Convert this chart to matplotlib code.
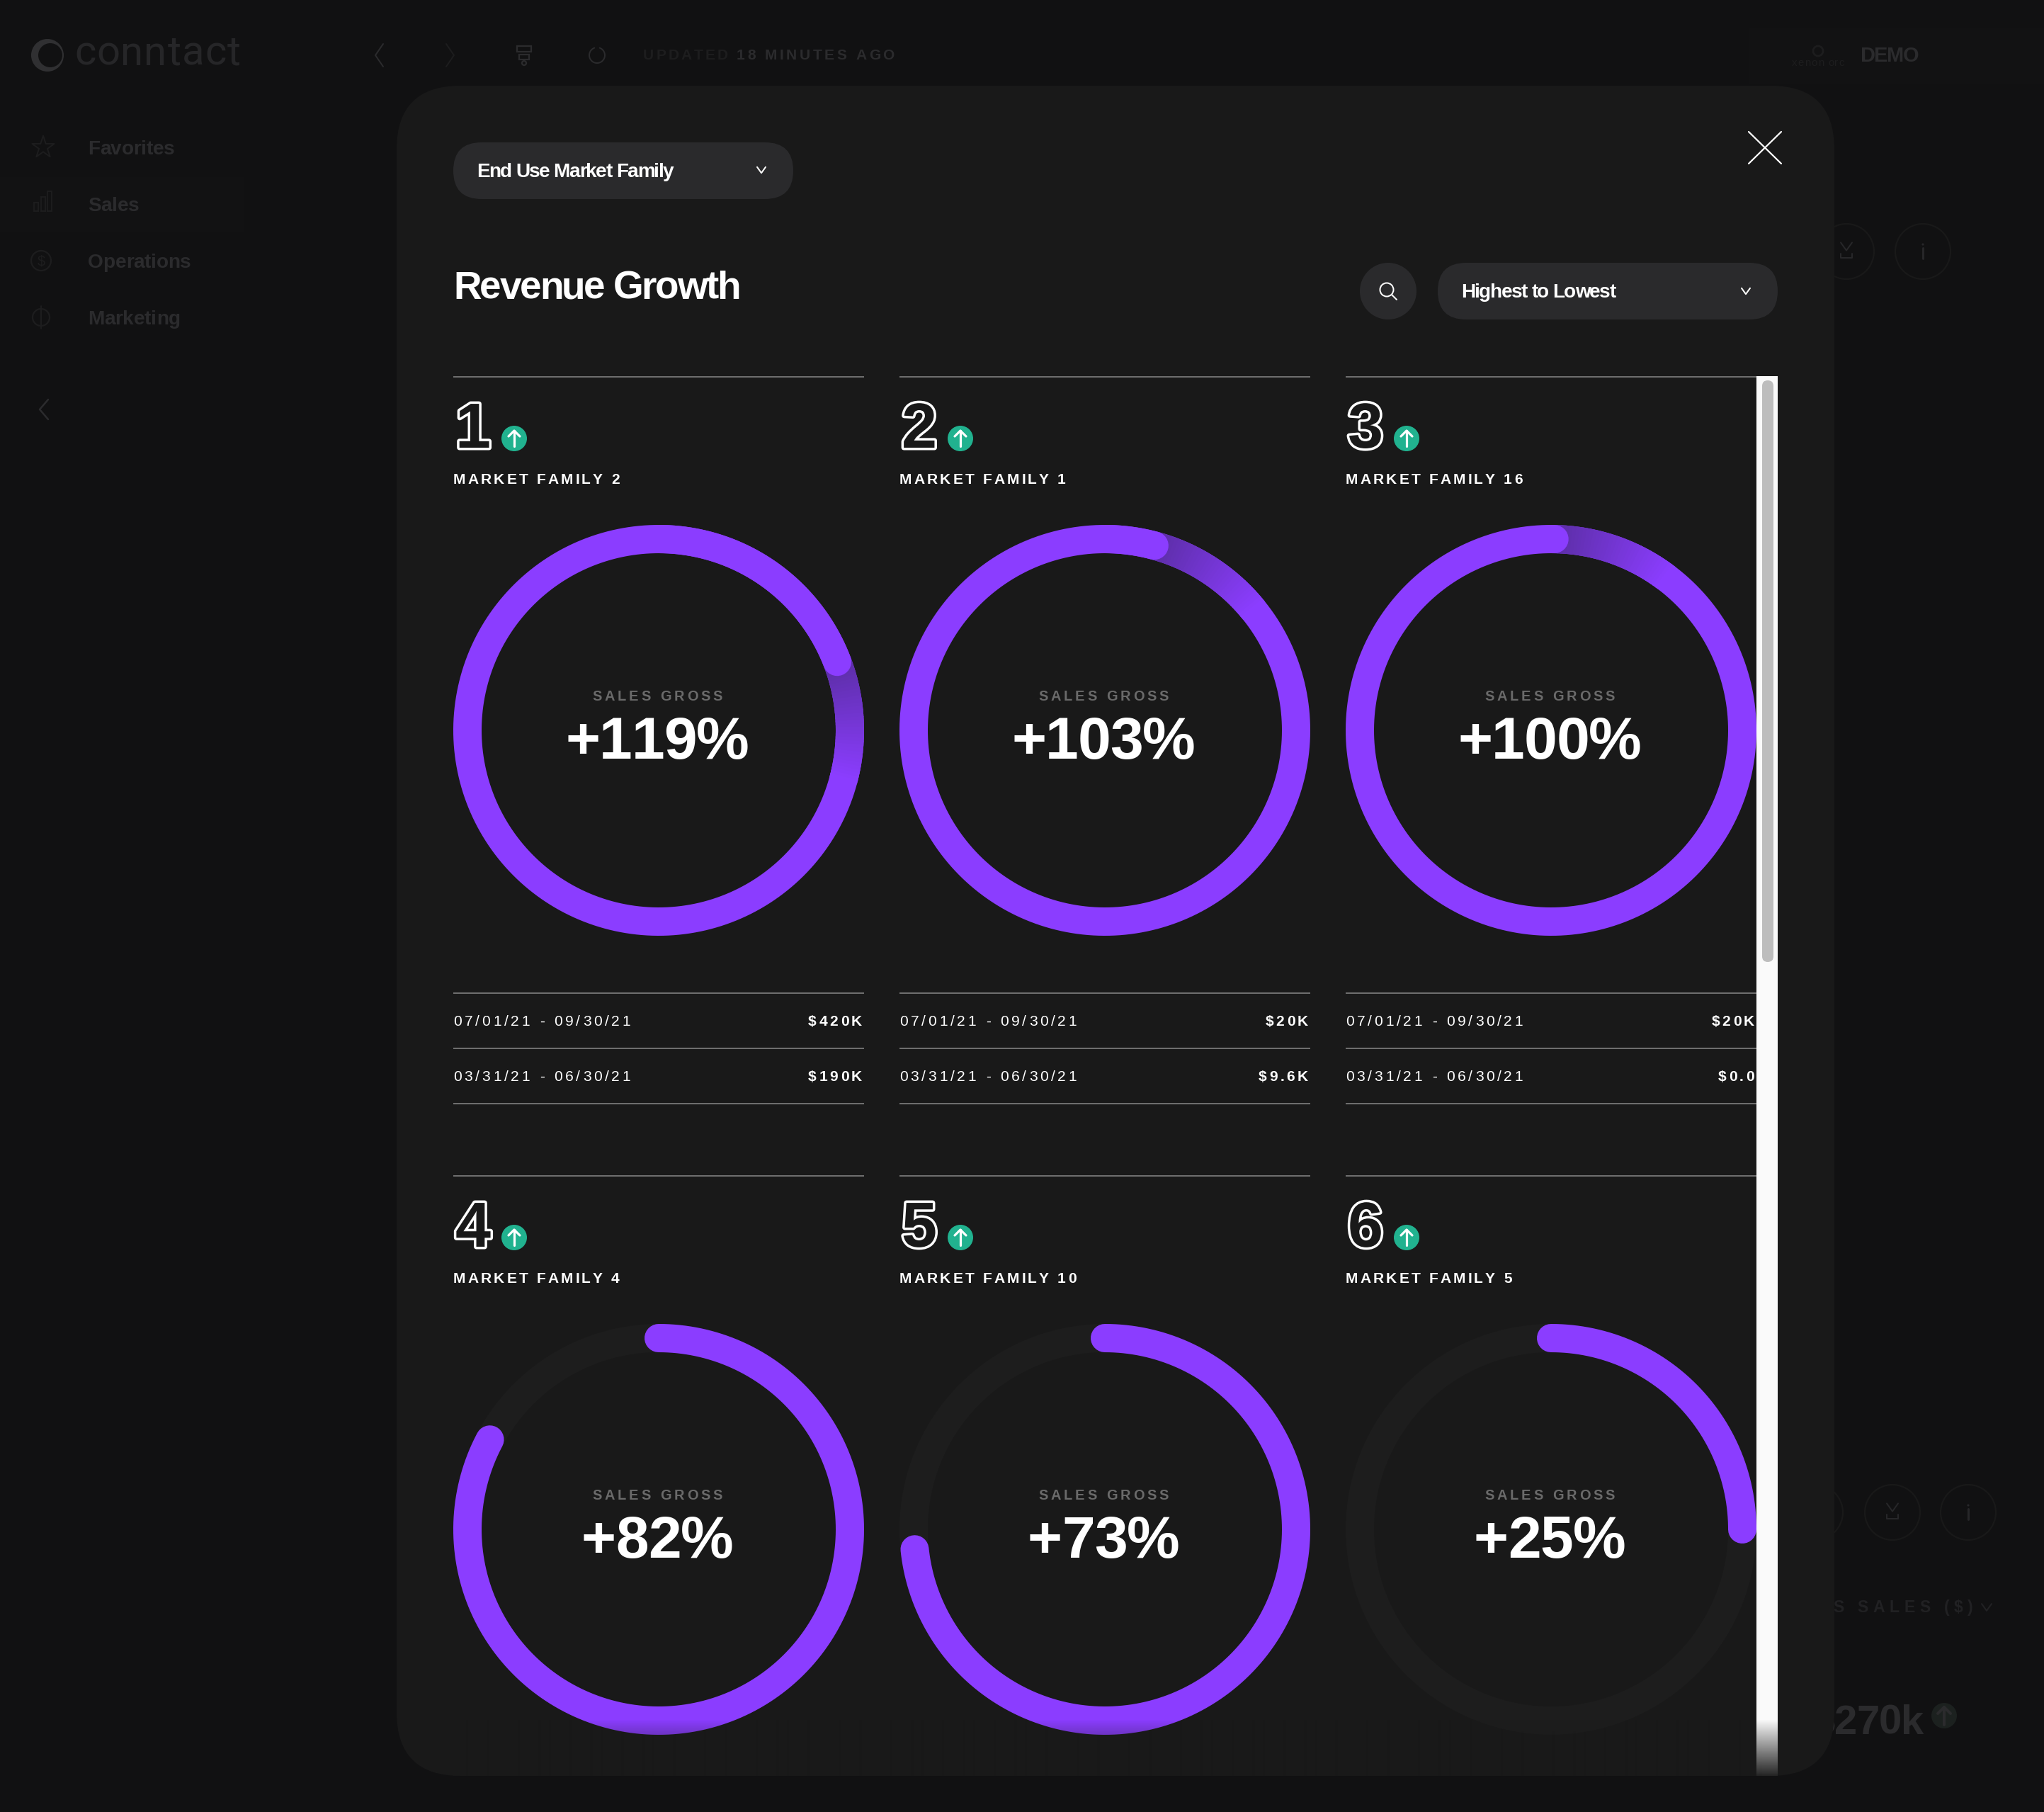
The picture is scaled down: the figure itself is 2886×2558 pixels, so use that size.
import numpy as np
import matplotlib
matplotlib.use('Agg')
import matplotlib.pyplot as plt
import matplotlib.patheffects as pe
from matplotlib.font_manager import findfont, get_font
from matplotlib.patches import Circle, FancyBboxPatch, Rectangle
from matplotlib.text import Text

families = ['MARKET FAMILY 2', 'MARKET FAMILY 1', 'MARKET FAMILY 16',
            'MARKET FAMILY 4', 'MARKET FAMILY 10', 'MARKET FAMILY 5']
growth = [119, 103, 100, 82, 73, 25]
# where each ring really ends, degrees clockwise from the top
ring_sweep = [429, 375, 361, 298, 264, 90]
period_current = '07/01/21 - 09/30/21'
period_previous = '03/31/21 - 06/30/21'
amount_current = ['$420K', '$20K', '$20K']
amount_previous = ['$190K', '$9.6K', '$0.0']
nav_items = ['Favorites', 'Sales', 'Operations', 'Marketing']

W, H = 2886, 2558
PAGE = '#111112'
PANEL = '#191919'
PILL = '#2a2a2c'
PURPLE = '#8b3dff'
SHADE = '#5c2ea6'
TRACK = '#1d1d1d'
RULE = '#6e6e6e'
GREEN = '#21b28f'
DIM = '#2b2b2d'
DIMMER = '#1d1d1e'
PX = 0.72  # figure is 100 dpi, so one pixel is 0.72 pt

col_x = [640, 1270, 1900]
col_w = 580
row_y = [532, 1660]


class TrackedText(Text):
    # Text with letter spacing, which matplotlib does not offer by itself
    def __init__(self, *args, tracking=0, **kwargs):
        super().__init__(*args, **kwargs)
        self.tracking = tracking

    def draw(self, renderer):
        s = self.get_text()
        prop = self.get_fontproperties()
        font = get_font(findfont(prop))
        font.set_size(prop.get_size_in_points(), self.figure.dpi)
        adv = [font.load_char(ord(c)).linearHoriAdvance / 65536 + self.tracking for c in s]
        total = sum(adv) - self.tracking
        x, y = self.get_transform().transform(self.get_position())
        if self.get_ha() == 'right':
            x -= total
        elif self.get_ha() == 'center':
            x -= total / 2
        gc = renderer.new_gc()
        gc.set_foreground(self.get_color())
        for c, a in zip(s, adv):
            if c != ' ':
                renderer.draw_text(gc, x, renderer.height - y, c, prop, 0, ismath=False)
            x += a
        gc.restore()


fig = plt.figure(figsize=(W / 100, H / 100), dpi=100, facecolor=PAGE)
ax = fig.add_axes([0, 0, 1, 1])
ax.axis('off')


def label(x, y, s, px, color='white', weight='normal', ha='left', tracking=0, z=7, family='Liberation Sans'):
    t = TrackedText(x, y, s, fontsize=px * PX, color=color, fontweight=weight, ha=ha,
                    va='baseline', family=family, tracking=tracking, zorder=z)
    ax.add_artist(t)


def line(xs, ys, color='white', w=2, z=7, cap='round'):
    ax.plot(xs, ys, color=color, lw=w * PX, zorder=z, solid_capstyle=cap, solid_joinstyle='round')


def box(x, y, w, h, r, color, z):
    ax.add_patch(FancyBboxPatch((x, y), w, h, boxstyle=f'round,pad=0,rounding_size={r}',
                                fc=color, ec='none', zorder=z))


def chevron(cx, cy, half=7, color='white', w=2, z=8):
    line([cx - half, cx, cx + half], [cy - half * 0.7, cy + half * 0.7, cy - half * 0.7], color, w, z)


def arc(cx, cy, r, a0, a1, color, w=40, z=7, cap='round'):
    # angles in degrees, clockwise from twelve o'clock
    t = np.radians(np.linspace(a0, a1, max(int(abs(a1 - a0)) * 2, 2)))
    line(cx + r * np.sin(t), cy - r * np.cos(t), color, w, z, cap)


def mix(c0, c1, f):
    a, b = np.array(matplotlib.colors.to_rgb(c0)), np.array(matplotlib.colors.to_rgb(c1))
    return a + (b - a) * f


def draw_page():
    # the dimmed dashboard behind the dialog
    ax.add_patch(Rectangle((0, 250), 345, 78, fc='#121213', ec='none', zorder=1))
    ax.add_patch(Rectangle((2470, 40), 416, 78, fc='#121213', ec='none', zorder=1))
    ax.add_patch(Circle((67, 78), 23, fc='#303032', ec='none', zorder=2))
    ax.add_patch(Circle((71, 78), 17, fc=PAGE, ec='none', zorder=2))
    label(105, 92, 'conntact', 58, '#262628', family='Roboto', tracking=1, z=2)
    line([541, 530, 541], [62, 78, 94], DIM, 2, 2)
    line([630, 641, 630], [62, 78, 94], DIMMER, 2, 2)
    ax.add_patch(Rectangle((730, 65), 20, 8, fc='none', ec=DIM, lw=1.6, zorder=2))
    ax.add_patch(Rectangle((733, 77), 14, 7, fc='none', ec=DIM, lw=1.6, zorder=2))
    ax.add_patch(Circle((740, 89), 3, fc='none', ec=DIM, lw=1.6, zorder=2))
    arc(843, 78, 11, 20, 340, DIM, 2, 2)
    label(908, 84, 'UPDATED', 21, DIMMER, 'bold', tracking=3, z=2)
    label(1040, 84, '18 MINUTES AGO', 21, DIM, 'bold', tracking=3.5, z=2)
    ax.add_patch(Circle((2567, 72), 7, fc='none', ec=DIMMER, lw=2, zorder=2))
    label(2567, 93, 'xenon orc', 15, DIMMER, ha='center', tracking=1, z=2)
    label(2627, 87, 'DEMO', 29, DIM, 'bold', tracking=-1.5, z=2)

    for i, name in enumerate(nav_items):
        y = 218 + 80 * i
        label(124, y, name, 28, DIM, 'bold', tracking=-0.2, z=2)
    ax.scatter([61], [208], s=560, marker='*', fc='none', ec=DIMMER, lw=1.4, zorder=2)
    for dx, dh in zip([48, 58, 67], [12, 20, 28]):
        ax.add_patch(Rectangle((dx, 298 - dh), 6, dh, fc='none', ec=DIMMER, lw=1.4, zorder=2))
    ax.add_patch(Circle((58, 368), 14, fc='none', ec=DIMMER, lw=1.6, zorder=2))
    label(58, 375, '$', 20, DIMMER, ha='center', z=2)
    ax.add_patch(Circle((58, 448), 12, fc='none', ec=DIMMER, lw=1.6, zorder=2))
    line([58, 58], [432, 464], DIMMER, 2, 2)
    line([68, 56, 68], [564, 578, 592], DIM, 2.5, 2)

    for cx, cy in [(2607, 355), (2715, 355), (2563, 2135), (2672, 2135), (2779, 2135)]:
        ax.add_patch(Circle((cx, cy), 39, fc='none', ec='#191919', lw=1.6, zorder=2))
    for cx, cy in [(2607, 355), (2672, 2135)]:
        chevron(cx, cy - 7, 8, '#272729', 2, 2)
        line([cx - 8, cx - 8, cx + 8, cx + 8], [cy + 3, cy + 9, cy + 9, cy + 3], '#272729', 2, 2)
    for cx, cy in [(2715, 355), (2779, 2135)]:
        line([cx, cx], [cy - 5, cy + 10], '#272729', 3, 2)
        ax.add_patch(Circle((cx, cy - 10), 1.6, fc='#272729', ec='none', zorder=2))
    label(2786, 2276, 'GROSS SALES ($)', 23, '#212123', 'bold', ha='right', tracking=6.5, z=2)
    chevron(2805, 2269, 7, '#222224', 2, 2)
    label(2716, 2448, '$270k', 58, DIM, 'bold', ha='right', tracking=-1, z=2)
    ax.add_patch(Circle((2745, 2422), 18, fc='#1c211f', ec='none', zorder=2))
    line([2745, 2745], [2435, 2410], DIM, 4, 2)
    line([2736, 2745, 2754], [2419, 2410, 2419], DIM, 4, 2)


def draw_header():
    box(640, 201, 480, 80, 40, PILL, 6)
    label(673, 250, 'End Use Market Family', 28, 'white', 'bold', tracking=-1.4)
    chevron(1075, 240, 6)
    line([2469, 2515], [186, 231], 'white', 2.2)
    line([2515, 2469], [186, 231], 'white', 2.2)
    label(640, 422, 'Revenue Growth', 55, 'white', 'bold', tracking=-2.4)

    ax.add_patch(Circle((1960, 411), 40, fc=PILL, ec='none', zorder=6))
    ax.add_patch(Circle((1958, 409), 9.5, fc='none', ec='white', lw=2 * PX, zorder=7))
    line([1965, 1972], [416, 423], 'white', 2)
    box(2030, 371, 480, 80, 40, PILL, 6)
    label(2063, 420, 'Highest to Lowest', 28, 'white', 'bold', tracking=-1.4)
    chevron(2465, 411, 6)


def draw_card(i):
    top = row_y[i // 3]
    x = col_x[i % 3]
    cx, cy = x + col_w / 2, top + 499
    line([x, x + col_w], [top, top], RULE, 2, cap='butt')

    ax.text(x + 3, top + 100, str(i + 1), fontsize=90 * PX, color=PANEL, fontweight='bold', family='Liberation Sans',
            va='baseline', zorder=7, path_effects=[pe.Stroke(linewidth=7 * PX, foreground='white'), pe.Normal()])
    bx, by = x + 86, top + 87
    ax.add_patch(Circle((bx, by), 18, fc=GREEN, ec='none', zorder=7))
    line([bx, bx], [by + 11, by - 11], 'white', 3.2, 8)
    line([bx - 8, bx, bx + 8], [by - 3, by - 11, by - 3], 'white', 3.2, 8)
    label(x, top + 151, families[i], 21, 'white', 'bold', tracking=3.1)

    # past a full turn the ring laps over its own start and throws a shadow
    sweep = ring_sweep[i]
    if sweep >= 360:
        extra = sweep - 360
        arc(cx, cy, 270, 0, 360, PURPLE, cap='butt')
        for k in range(36):
            arc(cx, cy, 270, extra + k, extra + k + 1.3, mix(SHADE, PURPLE, k / 35), z=7, cap='butt')
        arc(cx, cy, 270, 0, extra, PURPLE, z=8)
    else:
        arc(cx, cy, 270, 0, 360, TRACK, cap='butt')
        arc(cx, cy, 270, 0, sweep, PURPLE, z=8)

    label(cx - 2, cy - 42, 'SALES GROSS', 20, '#6a6a6a', 'bold', ha='center', tracking=3.9)
    label(cx - 2, cy + 40, f'+{growth[i]}%', 84, 'white', 'bold', ha='center', tracking=-1)

    if i < 3:
        for off in (870, 948, 1026):
            line([x, x + col_w], [top + off, top + off], RULE, 2, cap='butt')
        label(x, top + 916, period_current, 21, tracking=3.8)
        label(x, top + 994, period_previous, 21, tracking=3.8)
        label(x + col_w - 3, top + 916, amount_current[i], 21, weight='bold', ha='right', tracking=3.5)
        label(x + col_w - 3, top + 994, amount_previous[i], 21, weight='bold', ha='right', tracking=3.5)


draw_page()
box(560, 121, 2030, 2386, 90, PANEL, 5)
draw_header()
for i in range(len(families)):
    draw_card(i)

# scrollbar
ax.add_patch(Rectangle((2480, 531), 30, 1976, fc='#fafafa', ec='none', zorder=7))
box(2488, 537, 16, 821, 8, '#bdbdbd', 8)

# content fades out towards the bottom of the dialog
fade = np.zeros((80, 2, 4))
fade[..., :3] = matplotlib.colors.to_rgb(PANEL)
fade[..., 3] = np.linspace(0, 0.95, 80)[:, None]
ax.imshow(fade, extent=[640, 2510, 2507, 2427], aspect='auto', zorder=9, interpolation='bilinear')

ax.set_xlim(0, W)
ax.set_ylim(H, 0)
fig.savefig('out.png', dpi=100)
